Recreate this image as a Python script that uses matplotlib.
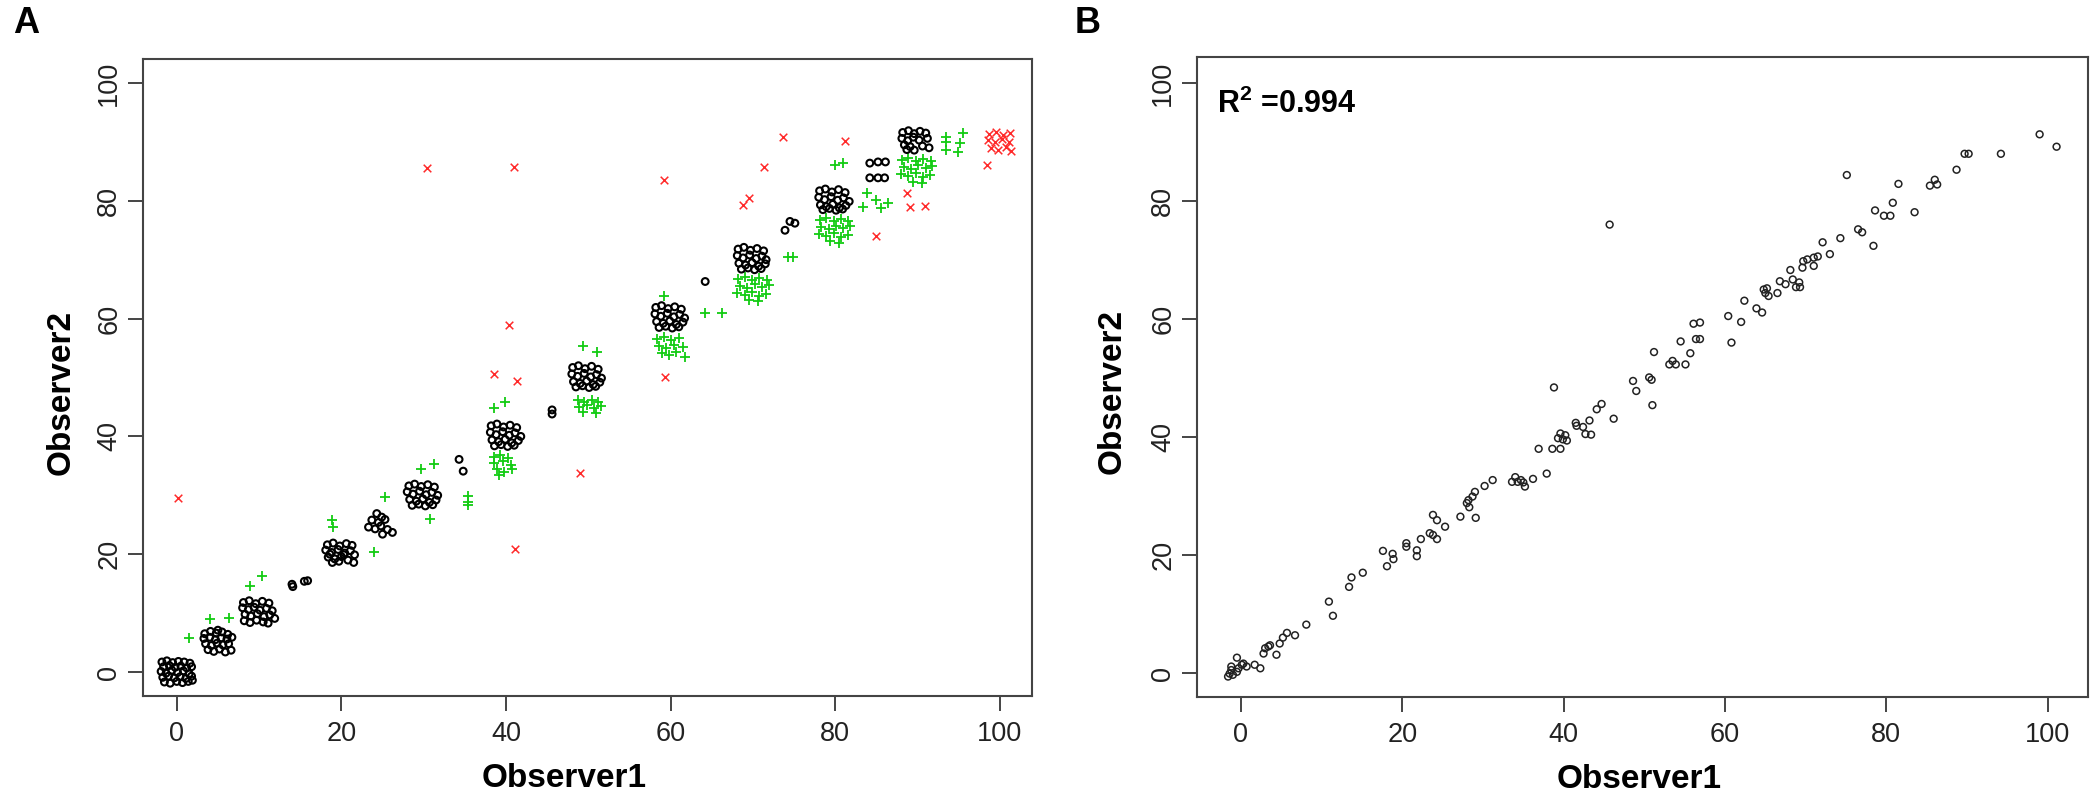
import matplotlib
matplotlib.use("Agg")
import matplotlib.pyplot as plt

plt.rcParams['font.family'] = ['Liberation Sans', 'DejaVu Sans']

# ---- panel A: two observers, jittered scores ----
# agreement (black open circles)
agree_x = [
    -1.8, -1.2, -0.5, 0.2, 0.9, 1.6, -1.6, -0.9, -0.2, 0.5, 1.2, 1.8, -1.9, -1.3, -0.6, 0.1, 0.8, 1.5,
    -1.7, -1.0, -0.3, 0.4, 1.1, 1.8, -1.5, -0.8, 0.0, 0.7, 1.4, 1.9,
    3.4, 4.1, 4.8, 5.5, 6.2, 3.3, 4.0, 4.7, 5.4, 6.1, 6.7, 3.5, 4.2, 4.9, 5.6, 6.3, 3.8, 4.5, 5.2, 5.9, 6.6, 5.0,
    8.1, 8.8, 9.6, 10.4, 11.2, 8.0, 8.7, 9.4, 10.1, 10.9, 11.6, 8.3, 9.0, 9.8, 10.6, 11.3, 11.9, 8.2, 8.9, 9.7, 10.5, 11.1,
    14.0, 14.1, 15.5, 15.9,
    18.3, 19.0, 19.8, 20.6, 21.3, 18.1, 18.8, 19.6, 20.4, 21.1, 21.6, 18.4, 19.2, 20.0, 20.8, 21.5, 18.9, 19.7, 20.3, 18.6,
    24.3, 24.9, 23.7, 24.5, 25.3, 23.3, 24.1, 24.8, 25.6, 26.2, 25.0,
    28.2, 28.9, 29.7, 30.5, 31.3, 28.0, 28.7, 29.5, 30.3, 31.0, 31.7, 28.3, 29.1, 29.9, 30.7, 31.5, 28.6, 29.4, 30.2, 31.1,
    34.3, 34.8,
    38.2, 38.9, 39.7, 40.5, 41.3, 38.1, 38.8, 39.6, 40.4, 41.1, 41.8, 38.3, 39.1, 39.9, 40.7, 41.5, 38.6, 39.4, 40.2, 41.0,
    45.6, 45.6,
    48.1, 48.8, 49.6, 50.4, 51.2, 48.0, 48.7, 49.5, 50.3, 51.0, 51.6, 48.2, 49.0, 49.8, 50.6, 51.4, 48.5, 49.3, 50.1, 50.9,
    58.2, 58.9, 59.7, 60.5, 61.3, 58.1, 58.8, 59.6, 60.4, 61.1, 61.7, 58.3, 59.1, 59.9, 60.7, 61.5, 58.6, 59.4, 60.2, 61.0,
    64.2,
    68.2, 68.9, 69.7, 70.5, 71.3, 68.1, 68.8, 69.6, 70.4, 71.1, 71.6, 68.3, 69.1, 69.9, 70.7, 71.5, 68.6, 69.4, 70.2, 71.0,
    73.9, 74.5, 75.1,
    78.1, 78.8, 79.6, 80.4, 81.2, 78.0, 78.7, 79.5, 80.3, 81.0, 81.7, 78.2, 78.9, 79.7, 80.5, 81.3, 78.5, 79.3, 80.1, 80.9,
    84.2, 85.2, 86.1, 84.2, 85.2, 86.0,
    88.2, 88.9, 89.6, 90.3, 91.0, 88.1, 88.8, 89.5, 90.2, 91.2, 88.4, 89.1, 90.6, 91.4, 88.7, 89.6,
]
agree_y = [
    1.7, 1.9, 1.6, 1.8, 1.7, 1.5, 0.9, 1.1, 0.8, 1.0, 0.7, 0.9, 0.1, -0.2, 0.3, -0.1, 0.2, -0.3,
    -0.9, -0.7, -1.0, -0.8, -1.1, -0.7, -1.7, -1.9, -1.6, -1.8, -1.6, -1.4,
    6.5, 6.9, 6.6, 6.8, 6.4, 5.7, 5.9, 5.5, 5.8, 5.6, 5.9, 4.8, 4.5, 4.9, 4.6, 4.8, 3.8, 3.5, 3.9, 3.4, 3.7, 7.1,
    11.8, 12.1, 11.6, 12.0, 11.7, 10.9, 10.6, 11.0, 10.5, 10.8, 10.4, 9.8, 9.5, 9.9, 9.4, 9.7, 9.1, 8.7, 8.4, 8.8, 8.5, 8.3,
    14.9, 14.5, 15.4, 15.5,
    21.6, 21.9, 21.4, 21.8, 21.5, 20.7, 20.3, 20.8, 20.2, 20.6, 19.9, 19.5, 19.2, 19.6, 19.0, 18.6, 18.6, 18.8, 19.9, 20.0,
    26.9, 26.3, 25.8, 25.4, 25.9, 24.6, 24.3, 24.8, 24.2, 23.7, 23.4,
    31.6, 31.9, 31.5, 31.8, 31.4, 30.6, 30.2, 30.7, 30.1, 30.5, 30.0, 29.3, 29.0, 29.4, 28.8, 29.2, 28.3, 28.5, 28.2, 28.4,
    36.1, 34.1,
    41.8, 42.1, 41.6, 41.9, 41.5, 40.7, 40.3, 40.8, 40.2, 40.6, 40.0, 39.4, 39.1, 39.5, 38.9, 39.3, 38.4, 38.6, 38.3, 38.5,
    44.5, 43.8,
    51.7, 52.0, 51.5, 51.9, 51.4, 50.6, 50.2, 50.7, 50.1, 50.5, 49.9, 49.3, 49.0, 49.4, 48.8, 49.2, 48.4, 48.6, 48.3, 48.5,
    61.9, 62.2, 61.7, 62.0, 61.6, 60.8, 60.4, 60.9, 60.3, 60.7, 60.1, 59.5, 59.2, 59.6, 59.0, 59.4, 58.5, 58.7, 58.4, 58.6,
    66.3,
    71.8, 72.1, 71.6, 71.9, 71.5, 70.7, 70.3, 70.8, 70.2, 70.6, 70.0, 69.4, 69.1, 69.5, 68.9, 69.3, 68.4, 68.6, 68.3, 68.5,
    75.0, 76.5, 76.2,
    81.7, 82.0, 81.5, 81.9, 81.4, 80.6, 80.2, 80.7, 80.1, 80.5, 79.9, 79.3, 79.0, 79.4, 78.8, 79.2, 78.5, 78.7, 78.4, 78.6,
    86.4, 86.6, 86.6, 83.9, 83.9, 83.9,
    91.6, 91.9, 91.4, 91.8, 91.5, 90.6, 90.2, 90.8, 90.3, 90.6, 89.5, 89.2, 89.3, 89.0, 88.7, 88.6,
]

# one category apart (green plus)
near_x = [
    1.5, 4.0, 6.3, 8.9, 10.4, 18.9, 19.0, 24.0, 25.3, 29.7, 31.3, 30.8, 35.4, 35.4, 35.4, 38.6, 39.9,
    49.3, 51.1, 59.2, 64.2, 66.2, 74.3, 74.9, 80.0, 81.0, 83.4, 83.8, 85.0, 85.6, 86.4,
    93.5, 93.5, 95.1, 95.5, 94.9, 93.4,
    38.5, 39.3, 40.2, 38.6, 39.6, 40.6, 38.9, 39.8, 40.7, 39.2,
    48.7, 49.5, 50.4, 51.2, 48.9, 49.8, 50.7, 51.6, 49.3, 50.9,
    58.4, 59.2, 60.1, 61.0, 58.6, 59.5, 60.4, 61.5, 58.9, 59.8, 60.7, 61.7,
    68.2, 69.0, 69.9, 70.8, 71.7, 68.4, 69.3, 70.2, 71.1, 71.9, 68.1, 69.0, 69.9, 70.8, 71.6, 69.5, 70.6,
    78.1, 78.9, 79.8, 80.7, 81.6, 78.3, 79.2, 80.1, 81.0, 81.8, 78.0, 78.9, 79.8, 80.7, 81.5, 79.4, 80.5,
    88.1, 88.9, 89.8, 90.7, 91.6, 88.3, 89.2, 90.1, 91.0, 91.8, 88.0, 88.9, 89.8, 90.7, 91.5, 89.4, 90.5,
]
near_y = [
    5.8, 9.0, 9.2, 14.6, 16.3, 25.8, 24.6, 20.4, 29.7, 34.5, 35.3, 26.0, 29.8, 28.9, 28.3, 44.8, 45.9,
    55.3, 54.4, 63.8, 60.9, 60.9, 70.5, 70.5, 86.0, 86.4, 79.0, 81.3, 80.1, 78.7, 79.6,
    90.9, 88.6, 89.8, 91.5, 88.3, 89.9,
    36.5, 36.8, 36.3, 35.5, 35.8, 35.2, 34.4, 34.0, 34.5, 33.5,
    46.1, 45.8, 46.2, 45.9, 45.0, 45.3, 44.8, 45.1, 44.2, 44.0,
    56.6, 56.9, 56.3, 56.7, 55.4, 55.0, 55.6, 55.2, 54.2, 53.8, 54.4, 53.4,
    66.8, 67.1, 66.5, 66.9, 66.6, 65.6, 65.2, 65.8, 65.3, 65.7, 64.4, 64.0, 64.5, 63.9, 64.2, 63.1, 63.0,
    76.8, 77.1, 76.5, 76.9, 76.6, 75.6, 75.2, 75.8, 75.3, 75.7, 74.4, 74.0, 74.5, 73.9, 74.2, 73.1, 72.9,
    87.0, 87.3, 86.7, 87.1, 86.8, 85.8, 85.4, 86.0, 85.5, 85.9, 84.6, 84.2, 84.7, 84.1, 84.4, 83.2, 83.1,
]

# disagreement (red cross)
far_x = [
    0.1, 30.4, 41.0, 59.2, 40.4, 38.5, 41.3, 41.1, 49.0, 59.3, 68.8, 69.5, 71.3, 73.7, 81.2, 85.0,
    88.7, 89.1, 90.9, 98.5,
    98.7, 99.5, 100.4, 101.2, 98.6, 99.4, 100.3, 101.1, 98.9, 99.8, 100.7, 101.4,
]
far_y = [
    29.6, 85.5, 85.8, 83.5, 59.0, 50.6, 49.4, 20.9, 33.8, 50.1, 79.3, 80.4, 85.8, 90.9, 90.1, 74.1,
    81.4, 78.9, 79.2, 86.0,
    91.4, 91.7, 91.2, 91.5, 90.3, 90.0, 90.5, 89.9, 89.0, 88.7, 89.2, 88.4,
]

# ---- panel B: mean score per image ----
obs1 = [
    99.0, 101.1, 94.2, 89.7, 90.2, 88.7, 85.4, 86.0, 86.3, 75.1, 81.5, 80.8, 78.6, 79.7, 80.5, 83.5,
    76.5, 77.0, 74.3, 72.1, 78.4, 73.0, 69.7, 70.2, 71.0, 71.5, 69.6, 71.0, 68.1,
    66.8, 67.5, 68.4, 69.2, 69.3, 68.8, 64.8, 65.2, 65.0, 65.4, 66.5, 62.4, 60.4, 62.0, 63.9, 64.6, 60.8,
    56.9, 56.9,
    45.7, 38.8, 48.6, 49.0, 50.6, 50.9, 51.2, 53.5, 53.9, 53.1, 54.5, 55.1, 55.7, 56.1, 56.4,
    51.0, 44.7, 44.1, 46.2, 41.5, 42.4, 43.2, 41.6, 42.7, 43.4, 39.6, 40.2, 39.9, 39.3, 40.4,
    36.9, 38.6, 39.6, 37.9, 36.2, 34.0, 33.6, 34.3, 34.7, 35.0, 35.2, 31.2, 30.2,
    29.0, 28.7, 28.2, 28.0, 28.3, 27.2, 29.1,
    23.8, 24.3, 25.3, 23.4, 23.8, 24.3, 22.3, 20.5, 21.8, 21.8, 20.5, 17.6, 18.8, 18.9, 18.1,
    15.1, 13.7, 13.4, 10.9, 11.4, 8.1, 6.7, 5.7, 5.2, 4.8, 4.4, 3.6, 3.0, 2.8, 3.4,
    2.4, 1.7, 0.7, -0.5, 0.1, -0.3, -1.2, -1.4, -1.6, -1.0, -1.2, -0.5, 0.3,
]
obs2 = [
    91.3, 89.2, 88.0, 88.0, 88.0, 85.3, 82.6, 83.6, 82.8, 84.4, 82.9, 79.7, 78.4, 77.5, 77.5, 78.1,
    75.2, 74.7, 73.7, 73.0, 72.4, 71.0, 69.8, 70.1, 70.4, 70.6, 68.7, 69.0, 68.3,
    66.4, 65.9, 66.7, 66.2, 65.4, 65.4, 65.0, 65.2, 64.4, 63.9, 64.4, 63.1, 60.5, 59.5, 61.8, 61.1, 56.0,
    59.4, 56.6,
    76.0, 48.4, 49.5, 47.8, 50.1, 49.7, 54.4, 52.9, 52.3, 52.3, 56.2, 52.3, 54.2, 59.2, 56.6,
    45.4, 45.6, 44.7, 43.1, 42.4, 41.7, 42.8, 41.9, 40.5, 40.4, 40.6, 40.3, 39.6, 39.8, 39.4,
    38.0, 38.0, 38.0, 33.8, 32.9, 33.2, 32.4, 32.4, 32.7, 32.3, 31.6, 32.7, 31.7,
    30.7, 29.9, 29.3, 28.8, 28.1, 26.5, 26.3,
    26.8, 25.9, 24.8, 23.7, 23.4, 22.7, 22.7, 22.0, 20.8, 19.8, 21.4, 20.7, 20.2, 19.3, 18.1,
    17.0, 16.2, 14.6, 12.1, 9.7, 8.2, 6.4, 6.8, 6.0, 5.0, 3.1, 4.7, 4.2, 3.3, 4.5,
    0.8, 1.4, 1.1, 2.6, 1.4, 0.8, 0.5, -0.1, -0.6, -0.3, 1.1, 0.2, 1.6,
]
r2_text = r"$\mathbf{R^2}$ =0.994"
ticks = [0, 20, 40, 60, 80, 100]

fig = plt.figure(figsize=(21, 8.01), dpi=100)
axA = fig.add_axes([0.0681, 0.1311, 0.4233, 0.7952])
axB = fig.add_axes([0.5700, 0.1298, 0.4243, 0.7990])

axA.scatter(agree_x, agree_y, s=24, facecolors='none', edgecolors='black', linewidths=1.5, zorder=3)
axA.scatter(near_x, near_y, s=55, marker='+', color='#12cc12', linewidths=1.3, zorder=2)
axA.scatter(far_x, far_y, s=30, marker='x', color='#ff2a2a', linewidths=1.1, zorder=2)

axB.scatter(obs1, obs2, s=24, facecolors='none', edgecolors='#222222', linewidths=1.1)

for ax, xl, yl in ((axA, (-4.1, 103.9), (-4.07, 104.07)), (axB, (-5.45, 105.0), (-4.07, 104.4))):
    ax.set_xlim(*xl)
    ax.set_ylim(*yl)
    ax.set_xticks(ticks)
    ax.set_yticks(ticks)
    ax.tick_params(axis='both', direction='out', length=11, width=1.4, color='#444444',
                   labelsize=19.5, labelcolor='#222222')
    ax.tick_params(axis='x', pad=7)
    ax.tick_params(axis='y', pad=4, labelrotation=90)
    for lab in ax.get_yticklabels():
        lab.set_va('center')
    for sp in ax.spines.values():
        sp.set_color('#444444')
        sp.set_linewidth(1.5)
    ax.set_xlabel('Observer1', fontsize=24, fontweight='bold')
    ax.set_ylabel('Observer2', fontsize=24, fontweight='bold')

axA.xaxis.set_label_coords(0.4736, -0.105)
axB.xaxis.set_label_coords(0.496, -0.105)
axA.yaxis.set_label_coords(-0.0742, 0.477)
axB.yaxis.set_label_coords(-0.0774, 0.477)

plt.rcParams['mathtext.fontset'] = 'custom'
plt.rcParams['mathtext.bf'] = 'Liberation Sans:bold'
axB.text(0.0224, 0.9125, r2_text, transform=axB.transAxes, fontsize=22, fontweight='bold',
         ha='left', va='baseline')

fig.text(13 / 2100, 1 - 33 / 801, 'A', fontsize=26, fontweight='bold', ha='left', va='baseline')
fig.text(1075 / 2100, 1 - 33 / 801, 'B', fontsize=26, fontweight='bold', ha='left', va='baseline')

fig.savefig('out.png', dpi=100)
